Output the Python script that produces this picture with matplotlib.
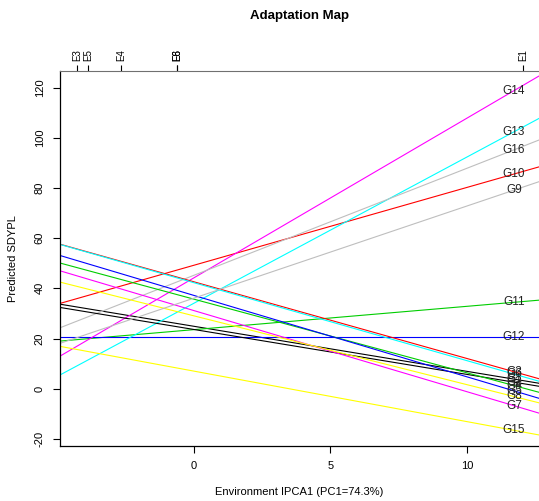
import matplotlib
matplotlib.use('Agg')
import matplotlib.pyplot as plt

plt.rcParams['font.family'] = ['Liberation Sans', 'DejaVu Sans']

# genotypes: predicted SDYPL at the left (x=-4.9) and right (x=12.64) ends of the plot
genotypes = ['G1', 'G10', 'G11', 'G12', 'G13', 'G14', 'G15', 'G16',
             'G2', 'G3', 'G4', 'G5', 'G6', 'G7', 'G8', 'G9']
x_left, x_right = -4.9, 12.64
y_left = [33.7, 34.0, 19.0, 20.5, 5.5, 13.0, 16.9, 24.3,
          32.4, 57.6, 50.1, 53.1, 57.5, 47.0, 42.5, 18.1]
y_right = [2.2, 88.4, 35.3, 20.5, 107.7, 124.6, -18.4, 99.1,
           1.0, 4.0, -1.4, -3.8, 3.0, -9.7, -5.6, 82.5]

# environment IPCA1 scores (top axis)
env_names = ['E3', 'E5', 'E4', 'E8', 'E6', 'E1']
env_scores = [-4.26, -3.88, -2.67, -0.62, -0.60, 12.06]

# R default palette, cycled
palette = ['black', '#FF0000', '#00CD00', '#0000FF', '#00FFFF', '#FF00FF', '#FFFF00', '#BEBEBE']
label_x = 11.72

fig = plt.figure(figsize=(5.39, 5.01), dpi=100)
ax = fig.add_axes([60 / 539, 55 / 501, 1 - 60 / 539, 375 / 501])

for i, g in enumerate(genotypes):
    c = palette[i % len(palette)]
    ax.plot([x_left, x_right], [y_left[i], y_right[i]], color=c, lw=0.8)
    slope = (y_right[i] - y_left[i]) / (x_right - x_left)
    yl = y_left[i] + slope * (label_x - x_left)
    ax.text(label_x, yl, g, ha='center', va='center', fontsize=8.5, color='#222222')

ax.set_xlim(x_left, x_right)
ax.set_ylim(-22.8, 126.6)
ax.set_xticks([0, 5, 10])
ax.set_yticks([-20, 0, 20, 40, 60, 80, 100, 120])
ax.set_yticklabels(['-20', '0', '20', '40', '60', '80', '100', '120'], rotation=90, va='center')
ax.tick_params(axis='both', labelsize=8, direction='out', length=5, width=0.8, pad=6)
ax.set_xlabel('Environment IPCA1 (PC1=74.3%)', fontsize=8, labelpad=11)
ax.set_ylabel('Predicted SDYPL', fontsize=8, labelpad=12)
ax.spines['right'].set_visible(False)
ax.spines['top'].set_color('#707070')
for s in ['left', 'bottom']:
    ax.spines[s].set_linewidth(0.9)

top = ax.secondary_xaxis('top')
top.set_xticks(env_scores)
top.set_xticklabels(env_names, rotation=90, fontsize=7)
top.tick_params(length=4, width=0.8, pad=3)
top.spines['top'].set_visible(False)

fig.text(0.555, 0.968, 'Adaptation Map', ha='center', va='center', fontsize=9.5, fontweight='bold')

fig.savefig('out.png', dpi=100)
